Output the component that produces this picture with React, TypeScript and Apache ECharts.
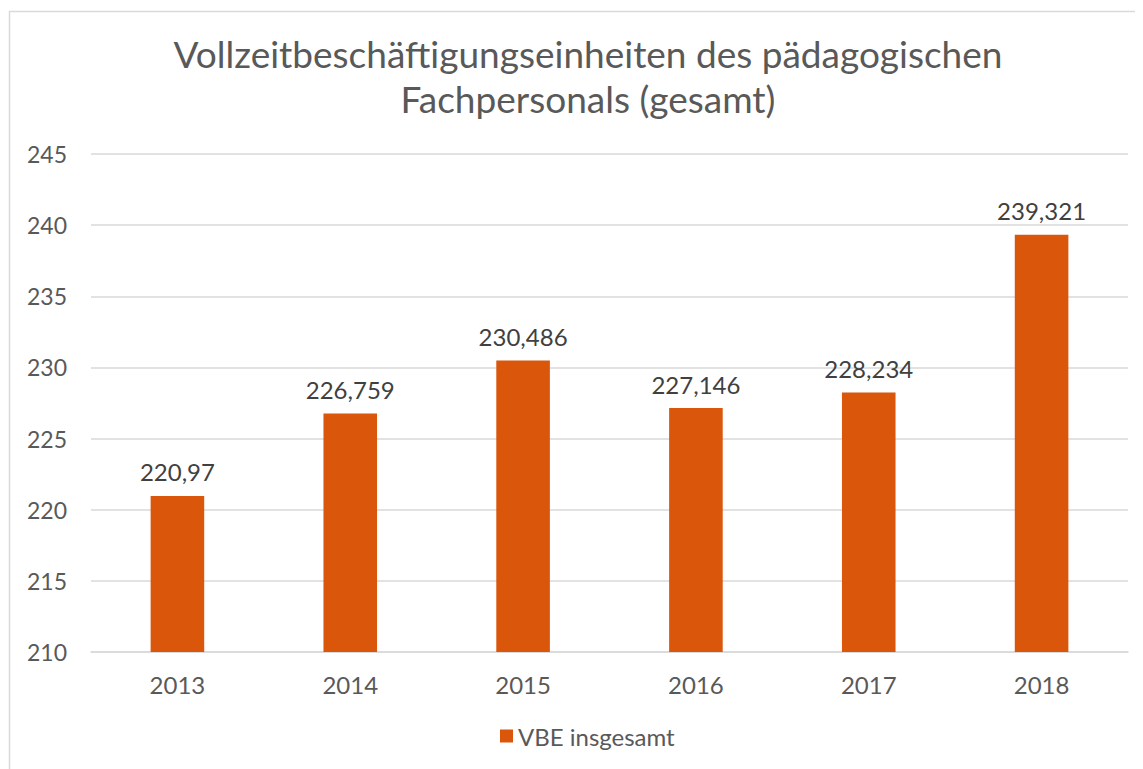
import React, { useEffect, useRef } from "react";
import * as echarts from "echarts";

const categories = ["2013", "2014", "2015", "2016", "2017", "2018"];
const values = [220.97, 226.759, 230.486, 227.146, 228.234, 239.321];
const seriesName = "VBE insgesamt";
const titleText = "Vollzeitbeschäftigungseinheiten des pädagogischen\nFachpersonals (gesamt)";

export default function App() {
  const ref = useRef<HTMLDivElement>(null);
  useEffect(() => {
    const chart = echarts.init(ref.current!, null, { renderer: "svg" });
    const font = "Lato, 'Open Sans', sans-serif";
    chart.setOption({
      animation: false,
      textStyle: { fontFamily: font },
      title: {
        text: titleText,
        left: 575,
        textAlign: "center",
        top: 18,
        textStyle: { fontFamily: font, fontSize: 37, fontWeight: "normal", color: "#595959", lineHeight: 45 },
      },
      graphic: [
        {
          type: "rect",
          shape: { x: 1.5, y: 3.5, width: 1200, height: 900 },
          style: { fill: "none", stroke: "#D9D9D9", lineWidth: 1.5 },
          silent: true,
        },
      ],
      legend: {
        bottom: 16,
        left: 487,
        itemWidth: 13,
        itemHeight: 13,
        itemGap: 10,
        icon: "rect",
        textStyle: { fontFamily: font, fontSize: 24, color: "#595959" },
        data: [seriesName],
      },
      grid: { left: 83, top: 146, width: 1037, height: 498, containLabel: false },
      xAxis: {
        type: "category",
        data: categories,
        axisLine: { show: true, lineStyle: { color: "#D9D9D9", width: 1.5 } },
        axisTick: { show: false },
        axisLabel: { fontFamily: font, fontSize: 24, color: "#595959", margin: 20 },
      },
      yAxis: {
        type: "value",
        min: 210,
        max: 245,
        interval: 5,
        axisLine: { show: false },
        axisTick: { show: false },
        splitLine: { lineStyle: { color: "#D9D9D9", width: 1.5 } },
        axisLabel: { fontFamily: font, fontSize: 23, color: "#595959", margin: 24 },
      },
      series: [
        {
          name: seriesName,
          type: "bar",
          data: values,
          barWidth: "31%",
          itemStyle: { color: "#D9560A" },
          label: {
            show: true,
            position: "top",
            distance: 12,
            fontFamily: font,
            fontSize: 24,
            color: "#404040",
            formatter: (p: any) => String(p.value).replace(".", ","),
          },
        },
      ],
    });
    return () => chart.dispose();
  }, []);
  return <div ref={ref} style={{ width: 1135, height: 761 }} />;
}
